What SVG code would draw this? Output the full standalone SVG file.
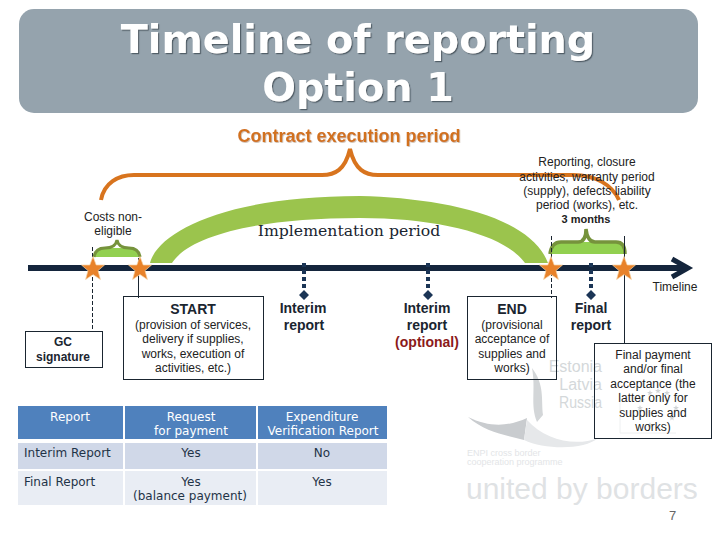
<svg xmlns="http://www.w3.org/2000/svg" width="720" height="540" viewBox="0 0 720 540">
<defs>
<polygon id="star" points="0,-12.500 3.200,-4 11.500,-4 5,1.600 7.400,10.500 0,5.600 -7.400,10.500 -5,1.600 -11.500,-4 -3.200,-4" fill="#e8822a" stroke="#f7d3a4" stroke-width="0.7"/>
<polygon id="tiny" points="0,-3 0.800,-0.900 3,-0.900 1.200,0.400 1.900,2.500 0,1.200 -1.900,2.500 -1.200,0.400 -3,-0.900 -0.800,-0.900" fill="#d2d5d7"/>
<filter id="shadow" x="-5%" y="-10%" width="110%" height="125%"><feDropShadow dx="1.200" dy="1.200" stdDeviation="0.500" flood-color="#4b5660" flood-opacity="0.900"/></filter>
<filter id="shadow2" x="-5%" y="-10%" width="110%" height="130%"><feDropShadow dx="0.800" dy="0.800" stdDeviation="0.400" flood-color="#b9a48f" flood-opacity="0.800"/></filter>
</defs>
<style>
text{font-family:"Liberation Sans",Arial,sans-serif;fill:#222}
.c{text-anchor:middle}
.s{font-size:12px}
.b{font-size:14px;font-weight:bold;fill:#1a2530}
.t{font-family:"DejaVu Sans",sans-serif;font-size:12px;fill:#1f3347}
.th{font-family:"DejaVu Sans",sans-serif;font-size:12px;fill:#fff}
.box{fill:none;stroke:#1a2530;stroke-width:1}
.dash{stroke:#1a2530;stroke-width:1;stroke-dasharray:4 2;fill:none}
.solid{stroke:#1a2530;stroke-width:1;fill:none}
.drop{fill:#1b3556}
.dropline{stroke:#1b3556;stroke-width:4;stroke-dasharray:4 3;fill:none}
.wm{fill:#d4d8da;font-size:16px}
.tt{font-family:"DejaVu Sans",sans-serif;font-size:39.700px;font-weight:bold;fill:#fff}
</style>
<rect width="720" height="540" fill="#fff"/>
<g id="watermark">
<text x="602" y="372" text-anchor="end" class="wm">Estonia</text>
<text x="602" y="390" text-anchor="end" class="wm">Latvia</text>
<text x="602" y="408" text-anchor="end" class="wm" textLength="43" lengthAdjust="spacingAndGlyphs">Russia</text>
<path d="M532,368 C545,385 541,400 543,415 L537,422 C530,405 536,390 532,368 Z" fill="#d3d6d8"/>
<path d="M468,417 C490,428 510,426 527,418 L524,440 C505,435 485,432 468,417 Z" fill="#c9cccf"/>
<path d="M527,420 C545,440 575,447 598,438 C585,450 545,450 524,440 Z" fill="#e6e8ea"/>
<path d="M620,392 V433 H676" fill="none" stroke="#eef0f1"/>
<use href="#tiny" x="650" y="393"/><use href="#tiny" x="658" y="391"/><use href="#tiny" x="667" y="393"/>
<use href="#tiny" x="642" y="400"/><use href="#tiny" x="640" y="408"/><use href="#tiny" x="676" y="408"/>
<use href="#tiny" x="650" y="425"/><use href="#tiny" x="672" y="418"/>
<text x="467" y="456" font-size="9" style="fill:#e3e5e7">ENPI cross border</text>
<text x="467" y="465" font-size="9" style="fill:#e3e5e7">cooperation programme</text>
<text x="466" y="499" font-size="30" style="fill:#dfe2e4">united by borders</text>
</g>
<g id="title">
<rect x="19" y="9" width="679" height="104" rx="15" fill="#95a3ad"/>
<text class="c tt" x="358" y="53" filter="url(#shadow)">Timeline of reporting</text>
<text class="c tt" x="358" y="101" filter="url(#shadow)">Option 1</text>
</g>
<g id="connectors">
<path d="M101,200 C104,183 118,175 134,175 L322,175 C335,175 345,170 350,149 C355,170 365,175 378,175 L573,175 C596,175 612,185 619,200" fill="none" stroke="#d8741e" stroke-width="4"/>
<path d="M150,263 C158,232 225,196 360,196 C440,198 530,215 548,263 L525,263 C505,235 440,218 360,218 C260,218 190,235 172,263 Z" fill="#9bc44d"/>
<path d="M94,257 C95,250 100,248 105,248 L129,248 C134,248 139,250 140,257 Z" fill="#92d050"/>
<path d="M94,257 C95,250 100,248 105,248 C112,248 116,246 117,240 C118,246 122,248 129,248 C134,248 139,250 140,257" fill="none" stroke="#76933c" stroke-width="3"/>
<path d="M550,254 C551,246 555,242 561,242 L618,242 C622,242 625,246 625,254 Z" fill="#92d050"/>
<path d="M550,254 C551,246 555,242 561,242 L578,242 C583,242 586,238 586,229 C587,238 590,242 595,242 L616,242 C622,242 625,246 625,254" fill="none" stroke="#76933c" stroke-width="3.500"/>
<line x1="28" y1="268" x2="688" y2="268" stroke="#14253c" stroke-width="6"/>
<path d="M672,259 L688,268 L672,277" fill="none" stroke="#14253c" stroke-width="5"/>
<path class="dash" d="M92.500,247 V331"/>
<path class="solid" d="M138.500,258 V298"/>
<path class="dash" d="M551.500,236 V298"/>
<path class="solid" d="M624.500,236 V344"/>
<path class="dropline" d="M304,263 V291"/>
<path class="dropline" d="M428,263 V291"/>
<path class="dropline" d="M591,263 V291"/>
<path class="drop" d="M304,290 l5,5 l-5,5 l-5,-5z M428,290 l5,5 l-5,5 l-5,-5z M591,290 l5,5 l-5,5 l-5,-5z"/>
<use href="#star" x="93" y="269"/>
<use href="#star" x="140" y="269"/>
<use href="#star" x="551" y="269"/>
<use href="#star" x="624" y="269"/>
</g>
<g id="contract-period">
<text class="c" x="349" y="142" font-size="18" font-weight="bold" filter="url(#shadow2)" style="fill:#d2711f">Contract execution period</text>
</g>
<g id="costs-label">
<text class="c s" x="113" y="221">Costs non-</text>
<text class="c s" x="113" y="235">eligible</text>
</g>
<g id="implementation">
<text class="c" x="349" y="236" font-size="15.700" style="font-family:'DejaVu Serif',serif;fill:#1a2530">Implementation period</text>
</g>
<g id="reporting-label">
<text class="c s" x="587" y="166">Reporting, closure</text>
<text class="c s" x="587" y="181">activities, warranty period</text>
<text class="c s" x="587" y="195">(supply), defects liability</text>
<text class="c s" x="587" y="209">period (works), etc.</text>
<text class="c" x="586" y="223" font-size="11" font-weight="bold">3 months</text>
</g>
<g id="timeline-label"><text class="c s" x="675" y="291">Timeline</text></g>
<g id="gc-signature">
<rect class="box" x="25.500" y="331.500" width="77" height="36"/>
<text class="c" x="63" y="346" font-size="12" font-weight="bold" style="fill:#1a2530">GC</text>
<text class="c" x="63" y="361" font-size="12" font-weight="bold" style="fill:#1a2530">signature</text>
</g>
<g id="start">
<rect class="box" x="123.500" y="296.500" width="140" height="83"/>
<text class="c b" x="193" y="314">START</text>
<text class="c s" x="193" y="329">(provision of services,</text>
<text class="c s" x="193" y="343">delivery if supplies,</text>
<text class="c s" x="193" y="358">works, execution of</text>
<text class="c s" x="193" y="372">activities, etc.)</text>
</g>
<g id="interim1">
<text class="c b" x="303" y="313">Interim</text>
<text class="c b" x="304" y="330">report</text>
</g>
<g id="interim2">
<text class="c b" x="427" y="313">Interim</text>
<text class="c b" x="427" y="330">report</text>
<text class="c b" x="427" y="347" style="fill:#8b1a1a">(optional)</text>
</g>
<g id="end">
<rect class="box" x="467.500" y="296.500" width="89" height="83"/>
<text class="c b" x="512" y="314">END</text>
<text class="c s" x="512" y="329">(provisional</text>
<text class="c s" x="512" y="343">acceptance of</text>
<text class="c s" x="512" y="358">supplies and</text>
<text class="c s" x="512" y="372">works)</text>
</g>
<g id="final-report">
<text class="c b" x="591" y="313">Final</text>
<text class="c b" x="591" y="330">report</text>
</g>
<g id="final-payment">
<rect class="box" x="594.500" y="343.500" width="117" height="95"/>
<text class="c s" x="653" y="359">Final payment</text>
<text class="c s" x="653" y="373">and/or final</text>
<text class="c s" x="653" y="388">acceptance (the</text>
<text class="c s" x="653" y="402">latter only for</text>
<text class="c s" x="653" y="417">supplies and</text>
<text class="c s" x="653" y="431">works)</text>
</g>
<g id="table">
<rect x="18" y="406" width="105" height="33" fill="#4f81bd"/>
<rect x="125" y="406" width="131" height="33" fill="#4f81bd"/>
<rect x="258" y="406" width="129" height="33" fill="#4f81bd"/>
<rect x="18" y="443" width="105" height="26" fill="#d0d8e8"/>
<rect x="125" y="443" width="131" height="26" fill="#d0d8e8"/>
<rect x="258" y="443" width="129" height="26" fill="#d0d8e8"/>
<rect x="18" y="471" width="105" height="34" fill="#e9edf4"/>
<rect x="125" y="471" width="131" height="34" fill="#e9edf4"/>
<rect x="258" y="471" width="129" height="34" fill="#e9edf4"/>
<text class="th c" x="70" y="421">Report</text>
<text class="th c" x="191" y="421">Request</text>
<text class="th c" x="191" y="435">for payment</text>
<text class="th c" x="322" y="421">Expenditure</text>
<text class="th c" x="323" y="435">Verification Report</text>
<text class="t" x="24" y="457">Interim Report</text>
<text class="t c" x="191" y="457">Yes</text>
<text class="t c" x="322" y="457">No</text>
<text class="t" x="24" y="486">Final Report</text>
<text class="t c" x="191" y="486">Yes</text>
<text class="t c" x="190" y="500">(balance payment)</text>
<text class="t c" x="322" y="486">Yes</text>
</g>
<g id="page-number"><text x="669" y="520" font-size="13" style="fill:#666">7</text></g>
</svg>
